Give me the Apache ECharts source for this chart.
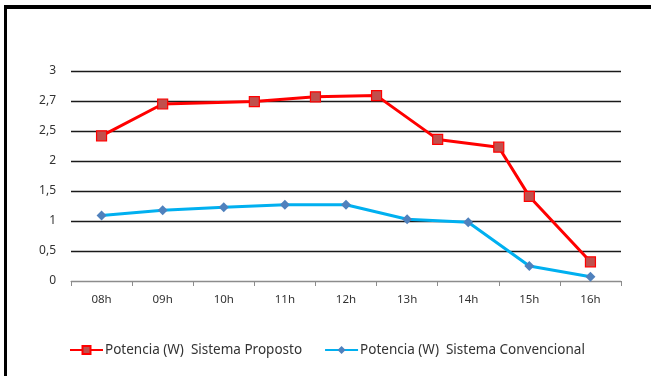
<!DOCTYPE html>
<html>
<head>
<meta charset="utf-8">
<script src="https://cdn.jsdelivr.net/npm/echarts@6/dist/echarts.min.js"></script>
<style>
  html, body { margin: 0; padding: 0; background: #fff; }
  #chart { width: 651px; height: 376px; }
</style>
</head>
<body>
<div id="chart"></div>
<script>
// Hour categories along the bottom axis
const hours = ['08h', '09h', '10h', '11h', '12h', '13h', '14h', '15h', '16h'];

// Y tick labels, one per gridline from the bottom (0 to 3.5 in steps of 0.5)
const yTickLabels = ['0', '0,5', '1', '1,5', '2', '2,5', '2,7', '3'];

// Proposed system: horizontal position (in category index units) and power
const propostoX = [0, 1, 2.5, 3.5, 4.5, 5.5, 6.5, 7, 8];
const propostoW = [2.42, 2.95, 2.99, 3.07, 3.09, 2.36, 2.23, 1.41, 0.32];

// Conventional system: power at each hour
const convencionalW = [1.09, 1.18, 1.23, 1.27, 1.27, 1.03, 0.98, 0.25, 0.07];

const FONT = 'Noto Sans';
const TEXT = '#333';

const chart = echarts.init(document.getElementById('chart'), null, { renderer: 'canvas' });

chart.setOption({
  animation: false,
  backgroundColor: '#fff',
  textStyle: { fontFamily: FONT },
  grid: { left: 71, right: 30, top: 71, bottom: 95, containLabel: false },
  xAxis: [
    {
      type: 'category',
      data: hours,
      boundaryGap: true,
      axisLine: { show: true, lineStyle: { color: '#8c8c8c', width: 1 } },
      axisTick: { show: true, inside: false, length: 5, lineStyle: { color: '#8c8c8c' } },
      axisLabel: { color: TEXT, fontSize: 11.5, fontFamily: FONT, margin: 13 },
      splitLine: { show: false }
    },
    {
      type: 'value',
      min: -0.5,
      max: 8.5,
      show: false,
      splitLine: { show: false }
    }
  ],
  yAxis: {
    type: 'value',
    min: 0,
    max: 3.5,
    interval: 0.5,
    axisLine: { show: false },
    axisTick: { show: false },
    axisLabel: {
      color: TEXT,
      fontSize: 12,
      fontFamily: FONT,
      margin: 15,
      formatter: (v) => yTickLabels[Math.round(v / 0.5)]
    },
    splitLine: {
      show: true,
      lineStyle: {
        color: ['#8c8c8c', '#1a1a1a', '#1a1a1a', '#1a1a1a', '#1a1a1a', '#1a1a1a', '#1a1a1a', '#1a1a1a'],
        width: 1.3
      }
    }
  },
  legend: {
    left: 64,
    top: 338,
    itemWidth: 33,
    itemHeight: 10,
    itemGap: 22,
    textStyle: { color: TEXT, fontSize: 13.5, fontFamily: FONT, padding: [0, 0, 0, -3] },
    data: ['Potencia (W)  Sistema Proposto', 'Potencia (W)  Sistema Convencional']
  },
  graphic: [
    { type: 'rect', shape: { x: 4, y: 5, width: 660, height: 4 }, style: { fill: '#000' }, silent: true },
    { type: 'rect', shape: { x: 4, y: 5, width: 3, height: 380 }, style: { fill: '#000' }, silent: true }
  ],
  series: [
    {
      name: 'Potencia (W)  Sistema Proposto',
      type: 'line',
      xAxisIndex: 1,
      data: propostoX.map((x, i) => [x, propostoW[i]]),
      symbol: 'rect',
      symbolSize: 10,
      showAllSymbol: true,
      lineStyle: { color: '#ff0000', width: 3 },
      itemStyle: { color: '#c0504d', borderColor: '#ff0000', borderWidth: 1.2 },
      z: 3
    },
    {
      name: 'Potencia (W)  Sistema Convencional',
      type: 'line',
      xAxisIndex: 0,
      data: convencionalW,
      symbol: 'diamond',
      symbolSize: 10,
      showAllSymbol: true,
      lineStyle: { color: '#00b0f0', width: 3 },
      itemStyle: { color: '#4f81bd', borderWidth: 0 },
      z: 2
    }
  ]
});
</script>
</body>
</html>
